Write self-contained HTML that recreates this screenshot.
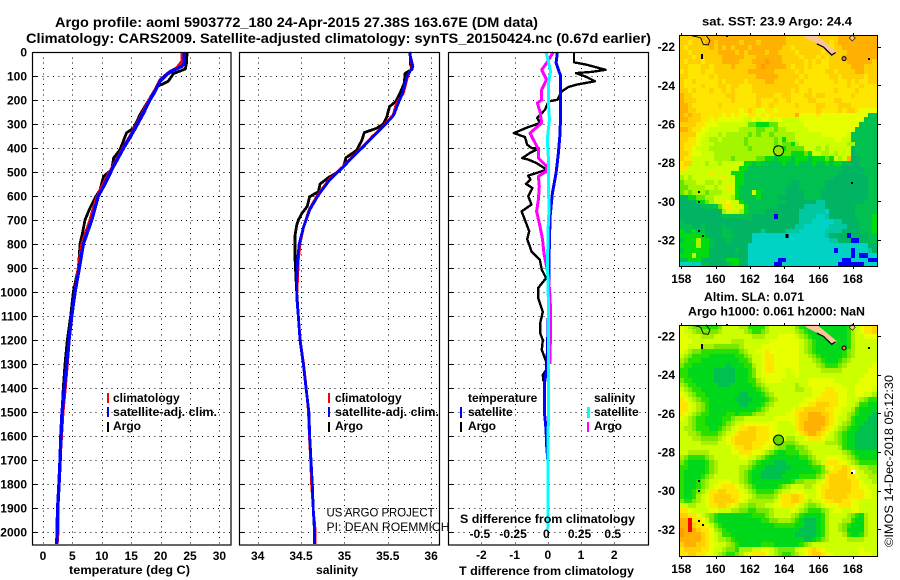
<!DOCTYPE html>
<html lang="en">
<head>
<meta charset="utf-8">
<title>Argo profile</title>
<style>
html,body{margin:0;padding:0;background:#fff;}
svg{display:block;}
text{font-family:"Liberation Sans",sans-serif;font-size:12px;font-weight:bold;fill:#000;}
.reg{font-weight:normal;}
.ttl{font-size:14px;}
</style>
</head>
<body>
<svg id="chart" xmlns="http://www.w3.org/2000/svg" width="900" height="580" viewBox="0 0 900 580">
  <rect x="0" y="0" width="900" height="580" fill="#fff"/>
  <g id="layer-maps"></g>
  <g id="layer-plots"></g>
  <text class="ttl" x="55" y="27" textLength="483" lengthAdjust="spacingAndGlyphs">Argo profile: aoml 5903772_180 24-Apr-2015 27.38S 163.67E (DM data)</text>
  <text class="ttl" x="26" y="43" textLength="625" lengthAdjust="spacingAndGlyphs">Climatology: CARS2009. Satellite-adjusted climatology: synTS_20150424.nc (0.67d earlier)</text>
  <text x="69" y="574" textLength="121" lengthAdjust="spacingAndGlyphs">temperature (deg C)</text>
  <text x="316" y="574" textLength="42" lengthAdjust="spacingAndGlyphs">salinity</text>
  <text x="459" y="575" textLength="175" lengthAdjust="spacingAndGlyphs">T difference from climatology</text>
  <text x="460" y="523" textLength="175" lengthAdjust="spacingAndGlyphs">S difference from climatology</text>
  <text class="reg" x="326.5" y="516.5" textLength="108" lengthAdjust="spacingAndGlyphs">US ARGO PROJECT</text>
  <text class="reg" x="326.5" y="531" textLength="123" lengthAdjust="spacingAndGlyphs">PI: DEAN ROEMMICH</text>

  <g>
    <rect x="107" y="393" width="2" height="10" fill="#f00"/>
    <rect x="107" y="407" width="2" height="10" fill="#00f"/>
    <rect x="107" y="422" width="2" height="10" fill="#000"/>
    <text x="113" y="402">climatology</text>
    <text x="113" y="416" textLength="104" lengthAdjust="spacingAndGlyphs">satellite-adj. clim.</text>
    <text x="113" y="430">Argo</text>
  </g>
  <g>
    <rect x="328" y="393" width="2" height="10" fill="#f00"/>
    <rect x="328" y="407" width="2" height="10" fill="#00f"/>
    <rect x="328" y="422" width="2" height="10" fill="#000"/>
    <text x="335" y="402">climatology</text>
    <text x="335" y="416" textLength="104" lengthAdjust="spacingAndGlyphs">satellite-adj. clim.</text>
    <text x="335" y="430">Argo</text>
  </g>
  <g>
    <text x="468" y="402">temperature</text>
    <rect x="460" y="407" width="2" height="11" fill="#00f"/>
    <text x="468" y="416">satellite</text>
    <rect x="460" y="422" width="2" height="10" fill="#000"/>
    <text x="468" y="430">Argo</text>
    <text x="594" y="402">salinity</text>
    <rect x="587" y="407" width="3" height="11" fill="#0ff"/>
    <text x="594" y="416">satellite</text>
    <rect x="587" y="422" width="2" height="10" fill="#f0f"/>
    <text x="594" y="430">Argo</text>
  </g>

  <text x="702" y="25.5" textLength="150" lengthAdjust="spacingAndGlyphs">sat. SST: 23.9 Argo: 24.4</text>
  <text x="704" y="301" textLength="100" lengthAdjust="spacingAndGlyphs">Altim. SLA: 0.071</text>
  <text x="688" y="315.5" textLength="177" lengthAdjust="spacingAndGlyphs">Argo h1000: 0.061 h2000: NaN</text>
  <text class="reg" transform="translate(893,547) rotate(-90)" textLength="172" lengthAdjust="spacingAndGlyphs">©IMOS 14-Dec-2018 05:12:30</text>
</svg>
<script>
// ---- profile data (depth in m) ----
const depthTicks = [0,100,200,300,400,500,600,700,800,900,1000,1100,1200,1300,1400,1500,1600,1700,1800,1900,2000];
const tempTicks = [0,5,10,15,20,25,30];
const salTicks = [34,34.5,35,35.5,36];
const salTickLabels = ['34','34.5','35','35.5','36'];
const dTTicks = [-2,-1,0,1,2];
const dSTicks = [-0.5,-0.25,0,0.25,0.5];
const dSTickLabels = ['-0.5','-0.25','0','0.25','0.5'];

const tempClimDepth = [0,39,67,81,115,171,205,261,337,407,483,574,615,700,800,900,1000,1100,1200,1300,1400,1500,1600,1700,1800,1900,2000,2050];
const tempClimValues = [23.6,23.6,22.7,21.6,19.9,18.8,17.9,16.8,15.1,13.4,11.7,9.7,9.0,8.0,6.6,6.0,5.4,4.85,4.45,4.13,3.8,3.4,3.15,2.9,2.72,2.5,2.55,2.4];
const tempSatDepth = [0,46,60,76,94,122,164,199,254,330,400,476,560,600,700,800,900,1000,1100,1200,1300,1400,1500,1600,1700,1800,1900,2000,2050];
const tempSatValues = [24.0,24.0,23.6,22.2,21.0,19.9,19.05,18.2,17.1,15.4,13.7,12.0,10.3,9.4,8.28,6.86,6.18,5.44,4.88,4.42,4.03,3.63,3.25,3.05,2.9,2.72,2.5,2.4,2.35];
const tempArgoDepth = [0,46,71,90,122,146,192,261,282,317,337,407,442,490,518,574,608,650,700,750,800,850,900,1000,1100,1200,1300,1400,1500];
const tempArgoValues = [24.5,24.4,24.2,22.2,21.3,19.3,18.2,16.5,16.1,15.4,14.2,13.1,12.0,11.7,10.3,9.7,8.84,8.0,7.14,6.75,6.29,6.17,6.0,5.16,4.71,4.13,3.74,3.46,3.25];

const salClimDepth = [0,61,103,172,214,263,311,353,394,436,478,533,596,658,728,797,867,950,1019,1100,1200,1300,1400,1500,1600,1700,1800,1900,2000,2050];
const salClimValues = [35.75,35.78,35.73,35.68,35.60,35.56,35.44,35.32,35.21,35.09,34.98,34.82,34.69,34.59,34.53,34.49,34.47,34.46,34.45,34.47,34.49,34.53,34.56,34.585,34.595,34.61,34.62,34.64,34.665,34.665];
const salSatDepth = [0,61,103,172,214,263,311,353,394,436,478,533,596,658,728,797,867,950,1019,1100,1200,1300,1400,1500,1600,1700,1800,1900,2000,2050];
const salSatValues = [35.75,35.79,35.72,35.67,35.62,35.57,35.45,35.33,35.22,35.10,34.99,34.83,34.70,34.60,34.53,34.48,34.46,34.45,34.45,34.468,34.488,34.526,34.557,34.59,34.60,34.615,34.63,34.64,34.655,34.655];
const salArgoDepth = [0,47,72,89,131,172,207,228,269,300,318,336,369,410,440,478,499,522,550,582,603,644,672,700,722,764,806,861,1000,1200,1300,1400];
const salArgoValues = [35.76,35.76,35.78,35.70,35.69,35.64,35.59,35.52,35.49,35.45,35.37,35.23,35.20,35.14,35.02,34.99,34.93,34.82,34.72,34.70,34.60,34.57,34.51,34.47,34.45,34.43,34.43,34.43,34.45,34.488,34.526,34.557];

const dTArgoDepth = [0,43,53,74,83,88,104,122,136,146,164,199,206,240,275,296,313,338,354,386,400,402,421,442,448,463,490,504,515,532,549,567,601,636,664,699,747,779,831,865,907,942,983,1025,1082,1130,1172,1200,1241,1290,1325,1346,1373];
const dTArgoValues = [0.79,0.79,1.17,1.74,1.32,0.85,1.17,1.42,0.87,0.62,0.42,0.29,0.02,-0.08,-0.32,-0.23,-0.59,-1.02,-0.69,-0.62,-0.49,-0.27,-0.54,-0.77,-0.59,-0.34,-0.03,-0.34,-0.59,-0.52,-0.66,-0.46,-0.59,-0.49,-0.79,-0.69,-0.56,-0.62,-0.49,-0.24,-0.18,-0.05,-0.29,-0.29,-0.15,-0.23,-0.23,-0.15,-0.18,-0.05,-0.05,-0.15,-0.13];
const dTSatDepth = [0,46,101,226,337,421,504,588,685,783,894,1025,1227,1311,1380,1505,1575,1651,1700];
const dTSatValues = [0.29,0.25,0.39,0.39,0.37,0.32,0.25,0.14,0.07,0.05,0.03,0.03,-0.01,-0.03,-0.10,-0.10,-0.05,-0.03,0.0];
const dSArgoDepth = [0,46,74,115,157,199,213,247,296,338,379,407,442,476,497,518,560,615,664,726,782,838,893,949,1025,1116,1255,1300];
const dSArgoValues = [0.042,-0.009,-0.046,-0.009,-0.046,-0.046,-0.079,-0.059,-0.046,-0.134,-0.096,-0.071,-0.071,-0.009,-0.009,-0.071,-0.064,-0.071,-0.084,-0.059,-0.039,-0.029,-0.009,0.007,0.017,0.022,0.017,0.017];
const dSSatDepth = [0,39,81,129,199,282,365,435,504,601,657,740,838,921,1025,1200,1500,1800,1990];
const dSSatValues = [-0.014,0.004,0.022,0.004,0.004,0.012,-0.004,0.004,0.007,0.007,0.009,0.002,-0.001,-0.001,0.004,0.004,0.004,0.002,0.002];

// ---- map data: one string per 0.25 deg latitude row, one colour class per 0.25 deg longitude cell ----
const mapLonTicks = [158,160,162,164,166,168];
const mapLatTicks = [-22,-24,-26,-28,-30,-32];
const sstRows = [
"BBBBBCBCCC CCCCCCCCCC CCCCCBBBBB BBBBBBBCCC CCCCCC",
"BBABBBCCBC CCCCBCCCBC CCCCCBBBBB BBBBBABCCC CCCCCC",
"BABBBBBCBC BCBCCCBCCC CCCCBBABBB BBBBBABBCC CCCCCC",
"BBABBBBBBC CCCBCBCCCC BCCBBBBABB BBBABABBBC CCCCCC",
"BBBABBBBBB CCCCCBBBCC CCCCBBBBAB BBABABBBCC CCCCCC",
"BABBBABBBB CCCCBBBCCC DCCCBBBBBA BABAABBBBC CCCCCB",
"BBAAABBABB BBCBBBBBCD CCCCCBABBA BAAAABBBBB CCCBBB",
"ABAAABAABB BBBBBBCCCC CCBBBBBABA AAAABBABBB BCCBBB",
"BBAAAAABAB BBBBBBBBCC CCCBBBBBAB AAAAABBABB BBBABB",
"BAABAAAAAB ABBBBABBBB CCBBBBBABA AAAAAABAAB ABAABB",
"BAAAABAAAB BABBAAABBB BBBBBBBBAA AAAAAAAAAB AABAAA",
"BBABAAABAA BABAAAABBB BBBBBBABAA BAAAAABAAA ABAAAA",
"CBBAAAAAAA ABBAAAAABB BBAABBAAAB BABBAAAAAA BAAAAA",
"CBBBAAAAAA AABAAAAABA AABAABAAAA BBAAAABBAA AAAAAA",
"CCBAAAAAAB AAAAAAAABA ABAAAAABAA AABBAAABBB AAAAAA",
"CCBBAAAAAA AAAA9ABA99 AA9AAAAAAA AABAAAABAB BA9999",
"CBCBBAAAAA 9A9A99AA9A 9AAAAAAC99 99A9999999 999944",
"CCBBBAA9A9 9999988989 9899888899 9999999999 999444",
"BBBBAA9998 8888886655 5668888889 9999999999 994444",
"CCBAA99888 8888777766 7767788888 9999999999 944444",
"BBBB998887 8777776767 7677777888 8889999998 444444",
"BBAA988778 7777767777 7767577888 8888889988 444444",
"BAAA988877 7777767777 7767665788 8888888887 744444",
"BAA9888777 7777776777 7756566668 8878788888 344444",
"BBA9988877 7777777777 7765665556 5887787888 344444",
"BAA8888877 7767777766 5545554555 455565878C 334444",
"ABB8887887 8888855454 4444544544 4544545544 334444",
"AA88888888 8888554444 4444444444 4444444433 333444",
"8888888A88 8855544444 4444444444 4444444333 333444",
"7878888888 A885544444 4444444444 4444443333 333344",
"6777887787 8885544444 4444443344 4444333333 333344",
"6677778878 8A85444444 4444433344 4444333333 333344",
"6767776777 8885444854 4444433334 4443333333 333344",
"3355667788 8875444454 4443333334 4443333333 333344",
"3333556788 A988544444 4444433333 3322333333 333444",
"3333344446 8A88854444 4443333332 2222333333 344444",
"3333333333 7888754444 3333333322 2222133333 344444",
"3333333333 4444444333 3303333322 2211233333 344445",
"4333333333 3333333333 3333333322 2111112233 334445",
"4443343333 4333333333 3333333221 1111122223 334445",
"5445443333 4433333332 3333322211 1111222233 334445",
"5555553333 4443333111 1111111111 1111233330 333344",
"4555755433 3433333111 1111111111 1111122333 003344",
"5555755433 3333331111 1111111111 1111111111 111133",
"4555555333 3334331111 1111111111 1111110111 011123",
"5558555333 3333331111 1111111111 1111111111 010011",
"4455533333 3555331111 1110011111 1111111100 111100",
"1111144333 3455331111 1100111111 1111111000 000111"
];
const slaRows = [
"9876655556 8888775555 7888888654 4444444445 889AAB",
"9887666667 8888876556 7888888765 4444444445 789AAB",
"9988877788 8888888777 8889999876 5444444445 788999",
"9998888888 8877788888 8999999987 6544444445 788888",
"9988877766 6666788889 9999999987 6544444445 788888",
"9876655555 5555678899 A999999987 6544444456 788888",
"8765555444 4445567889 AA99999988 7654444456 788888",
"7655544444 4444556889 AA99999988 8765444567 888888",
"6554444444 4344455789 AA99999988 8876555678 888889",
"5544444433 3334445689 AA99989988 8887777788 888899",
"5544444433 3334445689 9999988988 8888888888 888999",
"6554444433 3334445578 9999888888 9999998888 889999",
"7655444443 3344444567 8888888788 9999999988 899999",
"8765544444 4444444456 7888888778 8999AA9998 899998",
"9876554444 4444334445 6788888888 899AAAA998 899887",
"A987655444 4443333444 5678888889 99AAAAA998 887655",
"AA98765444 4444334445 6788888899 AABBBAA998 875544",
"AA98765444 4444444456 7888889AAB BBBBAA9988 754444",
"A987655444 4554555677 8888899ABB CCCBBA9987 654443",
"9876554444 5567788888 8899999ABB CCCCBA9887 544433",
"8876554444 5678899999 9998889ABC CCCCBA9876 544333",
"8776555445 6789AABBAA A998888ABC CCCBA98765 443333",
"8877655556 789ABBBBAA A9988889AB CCBA987654 433333",
"8887766667 89ABBBBBAA A998877889 AAA9887654 433333",
"8888877778 89ABBBBAAA 9987666788 8888777654 433333",
"8888888888 889AABBAA9 9876655667 8888888754 433333",
"8877777888 8899AAA998 7654455566 7888888876 544444",
"7655556788 8888998876 5444444455 6788999987 654444",
"6544445678 8888887654 4433344444 5678AAA998 765555",
"5544445678 8888776544 3333334444 4556A9AABA 987766",
"5444445678 8888765443 3333344444 44567AABBA W98776",
"5444456788 8888765443 3333444455 5567ABBBBA A98877",
"5444567889 9988765444 4444445667 7789ABBBBB AA9887",
"5444567899 AAA9876544 4445678887 789AABBBBB AA9988",
"5445678AAB BAAA987655 5567889998 889ABBBBBB AAA998",
"5445789ABB BBAA998766 6678AABBA9 889ABBBBBA AAA998",
"6556789ABB BBBA987777 7789AABBA8 7889AABBAA 998888",
"8877889AAB BA98776677 8899AAA987 6678999AAA 998888",
"AA98888998 8877665566 6788889876 5556789988 998888",
"BBAA987654 4444444555 6788887654 4445788887 654788",
"CCEAA98654 4444444445 5667776543 3345788877 544788",
"CCEBAA9865 4444444444 4455555443 3345788765 444788",
"DCECBAA976 5444444444 4444444433 3345788764 444788",
"DCCCCBA987 5544444444 4444444333 3345788875 445788",
"CCCCCBA987 7654444444 4444444443 3456788887 777888",
"BCCCBBA998 8765444445 5544444456 7888888888 888888",
"ABBBBAA988 7665777889 9876666899 ABA9888888 889888",
"AABBAA9987 6556789AAA 9876556789 ABBA998888 889998"
];
const coastLon = [165.1,165.9,167.06,167.02,166.77,166.09,165.32];
const coastLat = [-21.41,-21.41,-22.26,-22.38,-22.43,-21.91,-21.57];
const coastEdgeLon = [165.9,166.3,166.5,166.77,167.0];
const coastEdgeLat = [-21.85,-22.02,-22.2,-22.43,-22.3];
const reefLon = [158.64,158.86,159.13,159.28,159.57,159.67,159.44];
const reefLat = [-21.45,-21.48,-21.55,-21.88,-21.91,-21.69,-21.41];
const speckLon = [159.19,159.05,159.01,159.05,159.25,167.93,168.93,160.65];
const speckLat = [-22.55,-29.5,-30.03,-31.55,-31.78,-29.07,-22.64,-21.43];
const floatLon = [163.67];
const floatLat = [-27.38];

// ---- axis functions ----
const depthY = d => 52 + d * 0.24;
const tempX = t => 43 + t * 5.88;
const salX = s => 257.7 + (s - 34) * 86.7;
const dTX = v => 547.8 + v * 33.2;
const dSX = v => 547.8 + v * 132.8;
const lonX = lon => 681.3 + (lon - 158) * 17.15;
const latY = (base, lat) => base + (-22 - lat) * 19.33;

const SVGNS = 'http://www.w3.org/2000/svg';
const plots = document.getElementById('layer-plots');
const maps = document.getElementById('layer-maps');
function mk(tag, parent, props) {
  const el = document.createElementNS(SVGNS, tag);
  for (const k in props) el.setAttribute(k, props[k]);
  parent.appendChild(el);
  return el;
}

// ---- profile panels ----
function drawPanel(name, x0, x1, xTicks, xFn, xLabels, labelBaseline, showDepthLabels) {
  const g = mk('g', plots, {});
  
  
  depthTicks.forEach(d => {
    const y = Math.round(depthY(d)) + 0.5;
    if (d > 0) {
      const gl = mk('line', g, {x1: x0 + 5, x2: x1, y1: y, y2: y, stroke: '#000', 'stroke-width': 1, 'stroke-dasharray': '1 4.33', 'shape-rendering': 'crispEdges'});
      
      
    }
    const t = mk('line', g, {x1: x0, x2: x0 + 5, y1: y, y2: y, stroke: '#000', 'stroke-width': 1});
    
    
    if (showDepthLabels) {
      const lb = mk('text', g, {x: 27, y: depthY(d) + 4.5, 'text-anchor': 'end'});
      lb.textContent = String(d);
      
      
    }
  });
  xTicks.forEach((v, i) => {
    const x = Math.round(xFn(v)) + 0.5;
    const gl = mk('line', g, {x1: x, x2: x, y1: 52, y2: 545, stroke: '#000', 'stroke-width': 1, 'stroke-dasharray': '1 4.33', 'shape-rendering': 'crispEdges'});
    
    
    const lb = mk('text', g, {x: xFn(v), y: labelBaseline, 'text-anchor': 'middle'});
    lb.textContent = xLabels[i];
    
    
  });
  return g;
}
function drawSeries(parent, name, depths, values, xFn, color, width) {
  const pts = depths.map((d, i) => xFn(values[i]).toFixed(1) + ',' + depthY(d).toFixed(1)).join(' ');
  const pl = mk('polyline', parent, {points: pts, fill: 'none', stroke: color, 'stroke-width': width, 'stroke-linejoin': 'round', 'shape-rendering': 'crispEdges'});
  
  
}
function drawFrame(parent, x0, x1) {
  const fr = mk('rect', parent, {x: x0 + 0.5, y: 52.5, width: x1 - x0 - 1, height: 492.5, fill: 'none', stroke: '#000', 'stroke-width': 1.2});
  
  
}

const p1 = drawPanel('temperature', 32, 231, tempTicks, tempX, tempTicks.map(String), 560, true);
drawSeries(p1, 'temperature-argo-line', tempArgoDepth, tempArgoValues, tempX, '#000', 2.8);
drawSeries(p1, 'temperature-climatology-line', tempClimDepth, tempClimValues, tempX, '#f00', 3);
drawSeries(p1, 'temperature-satellite-line', tempSatDepth, tempSatValues, tempX, '#00f', 3.4);
drawFrame(p1, 32, 231.5);

const p2 = drawPanel('salinity', 239, 440, salTicks, salX, salTickLabels, 560, false);
drawSeries(p2, 'salinity-argo-line', salArgoDepth, salArgoValues, salX, '#000', 2.8);
drawSeries(p2, 'salinity-climatology-line', salClimDepth, salClimValues, salX, '#f00', 2.6);
drawSeries(p2, 'salinity-satellite-line', salSatDepth, salSatValues, salX, '#00f', 2.8);
drawFrame(p2, 239, 440);

const p3 = drawPanel('difference', 448, 649, dTTicks, dTX, dTTicks.map(String), 559, false);
dSTicks.forEach((v, i) => {
  const lb = mk('text', p3, {x: dSX(v) - 1.5, y: 538, 'text-anchor': 'middle'});
  lb.textContent = dSTickLabels[i];
  
  
});
drawSeries(p3, 't-difference-argo-line', dTArgoDepth, dTArgoValues, dTX, '#000', 2.4);
drawSeries(p3, 't-difference-satellite-line', dTSatDepth, dTSatValues, dTX, '#00f', 3);
drawSeries(p3, 's-difference-argo-line', dSArgoDepth, dSArgoValues, dSX, '#f0f', 3);
drawSeries(p3, 's-difference-satellite-line', dSSatDepth, dSSatValues, dSX, '#0ff', 3);
drawFrame(p3, 448, 649);

// ---- maps ----
const sstColor = {
  '0':'#0000ff','1':'#00d2c3','2':'#00c8a0','3':'#00b464','4':'#00c050','5':'#00dc10',
  '6':'#64e600','7':'#a4f500','8':'#ccff00','9':'#e8ff00','A':'#ffe600','B':'#ffd000',
  'C':'#ffb000','D':'#ff9c00','E':'#ff0000','W':'#ffffff'
};
const slaColor = {
  '0':'#0000ff','1':'#00d2c3','2':'#00c8a0','3':'#00c050','4':'#00d81c','5':'#28e000',
  '6':'#78e800','7':'#a8f000','8':'#ccff00','9':'#e8ff00','A':'#ffe600','B':'#ffd000',
  'C':'#ffb000','D':'#ff9c00','E':'#ff0000','W':'#ffffff'
};
const LON_START = 157.883;
const LAT_START = -21.41;
function drawMap(name, rows, palette, base, bottomY, circleFill, labelBaseline, showSquare) {
  const g = mk('g', maps, {});
  
  
  rows.forEach((rowStr, r) => {
    const row = rowStr.replace(/ /g, '');
    const lat = LAT_START - r * 0.25;
    const y1 = Math.round(latY(base, lat));
    const y2 = r === rows.length - 1 ? bottomY : Math.round(latY(base, lat - 0.25));
    for (let c = 0; c < row.length; c++) {
      const lon = LON_START + c * 0.25;
      const x1 = Math.round(lonX(lon));
      const x2 = Math.min(877, Math.round(lonX(lon + 0.25)));
      const cell = mk('rect', g, {x: x1, y: y1, width: x2 - x1, height: y2 - y1, fill: palette[row[c]], 'shape-rendering': 'crispEdges'});
      
      
    }
  });
  const land = mk('polygon', g, {points: coastLon.map((v, i) => lonX(v).toFixed(1) + ',' + latY(base, coastLat[i]).toFixed(1)).join(' '), fill: '#f9c59a'});
  
  
  const edge = mk('polyline', g, {points: coastEdgeLon.map((v, i) => lonX(v).toFixed(1) + ',' + latY(base, coastEdgeLat[i]).toFixed(1)).join(' '), fill: 'none', stroke: '#000', 'stroke-width': 1.3});
  
  
  const reef = mk('polyline', g, {points: reefLon.map((v, i) => lonX(v).toFixed(1) + ',' + latY(base, reefLat[i]).toFixed(1)).join(' '), fill: 'none', stroke: '#000', 'stroke-width': 0.9});
  
  
  speckLon.forEach((v, i) => {
    const sp = mk('rect', g, {x: Math.round(lonX(v)) - 1, y: Math.round(latY(base, speckLat[i])) - (i === 0 ? 3 : 1), width: 2, height: i === 0 ? 5 : 2, fill: '#000', 'shape-rendering': 'crispEdges'});
    
    
  });
  if (showSquare) {
    const sq = mk('rect', g, {x: Math.round(lonX(164.18)) - 1.5, y: Math.round(latY(base, -31.78)) - 2, width: 3, height: 4, fill: '#000', 'shape-rendering': 'crispEdges'});
    
    
  }
  const isle = mk('circle', g, {cx: lonX(167.49), cy: latY(base, -22.62), r: 2, fill: '#e08060', stroke: '#000', 'stroke-width': 1});
  
  
  const dx = lonX(167.97), dy = latY(base, -21.55);
  const dia = mk('polygon', g, {points: [dx - 3, dy, dx, dy - 3, dx + 3, dy, dx, dy + 3].join(' '), fill: '#f9c59a', stroke: '#000', 'stroke-width': 0.6});
  
  
  const pt = mk('circle', g, {cx: lonX(floatLon[0]), cy: latY(base, floatLat[0]), r: 5, fill: circleFill, stroke: '#000', 'stroke-width': 1});
  
  

  const top = Math.round(latY(base, LAT_START));
  const fr = mk('rect', g, {x: 679.5, y: top + 0.5, width: 198, height: bottomY - top, fill: 'none', stroke: '#000', 'stroke-width': 1});
  
  
  mapLonTicks.forEach(v => {
    const x = Math.round(lonX(v)) + 0.5;
    const t1 = mk('line', g, {x1: x, x2: x, y1: top - 2, y2: top, stroke: '#000'});
    
    
    const t2 = mk('line', g, {x1: x, x2: x, y1: bottomY, y2: bottomY + 3, stroke: '#000'});
    
    
    const lb = mk('text', g, {x: lonX(v), y: labelBaseline, 'text-anchor': 'middle'});
    lb.textContent = String(v);
    
    
  });
  mapLatTicks.forEach(v => {
    const y = Math.round(latY(base, v)) + 0.5;
    const t = mk('line', g, {x1: 878, x2: 881, y1: y, y2: y, stroke: '#000'});
    
    
    const lb = mk('text', g, {x: 675, y: latY(base, v) + 4.5, 'text-anchor': 'end'});
    lb.textContent = String(v);
    
    
  });
}
drawMap('sst', sstRows, sstColor, 46.7, 266, '#96e600', 283, true);
drawMap('sla', slaRows, slaColor, 336, 556, '#5fd800', 573, false);
</script>
</body>
</html>
